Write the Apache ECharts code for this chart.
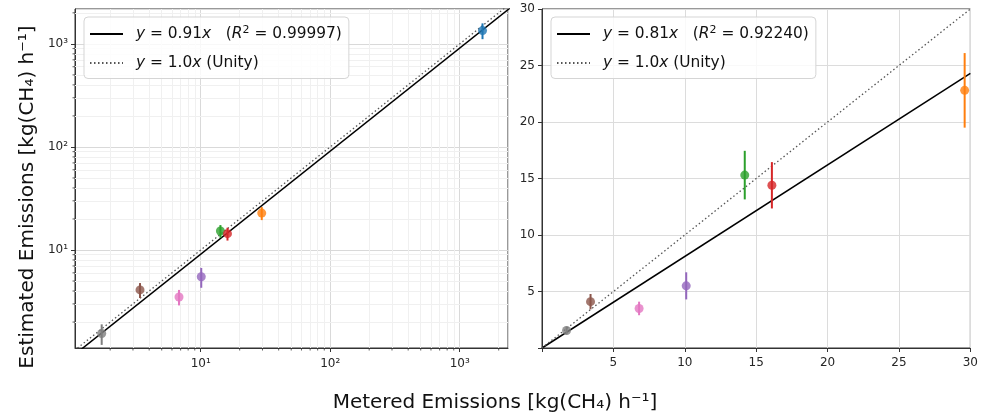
<!DOCTYPE html>
<html><head><meta charset="utf-8">
<script src="https://cdn.jsdelivr.net/npm/echarts@6/dist/echarts.min.js"></script>
<style>html,body{margin:0;padding:0;background:#fff}#c{width:981px;height:416px}</style>
</head><body><div id="c"></div>
<script>
// ---- data ----
const sourceColors = ['#1f77b4', '#ff7f0e', '#2ca02c', '#d62728', '#9467bd', '#8c564b', '#e377c2', '#7f7f7f'];
const metered   = [1500, 29.6, 14.2, 16.1, 10.1, 3.4, 6.8, 1.72];
const estimated = [1346, 22.8, 15.3, 14.4, 5.5, 4.1, 3.5, 1.55];
const estErr    = [235, 3.3, 2.15, 2.05, 1.2, 0.68, 0.6, 0.35];
const fitSlopes = [0.91, 0.81];
const fitR2     = ['0.99997', '0.92240'];
const unitySlope = 1.0;
const logLimitsX = [1.07, 2360];
const logLimitsY = [1.12, 2180];
const linLimits  = [0, 30];
const logMajorTicks = [10, 100, 1000];
const logMinorTicks = [2, 3, 4, 5, 6, 7, 8, 9, 20, 30, 40, 50, 60, 70, 80, 90, 200, 300, 400, 500, 600, 700, 800, 900, 2000];
const supDigits = { 10: '10\u00b9', 100: '10\u00b2', 1000: '10\u00b3' };

const FONT = 'DejaVu Sans';
const pts = metered.map((x, i) => ({ value: [x, estimated[i]], itemStyle: { color: sourceColors[i] } }));
const errs = metered.map((x, i) => [x, estimated[i], estErr[i]]);
const minorX = logMinorTicks.filter(v => v > logLimitsX[0] && v < logLimitsX[1]);
const minorY = logMinorTicks.filter(v => v > logLimitsY[0] && v < logLimitsY[1]);

function fitLine(slope, lim) { return [[lim[0], slope * lim[0]], [lim[1], slope * lim[1]]]; }

const legendText = {
  fitL: '{i|y} = 0.91{i|x}   ({i|R}{s|2} = ' + fitR2[0] + ')',
  uniL: '{i|y} = 1.0{i|x} (Unity)',
  fitR: '{i|y} = 0.81{i|x}   ({i|R}{s|2} = ' + fitR2[1] + ')',
  uniR: '{i|y} = 1.0{i|x} (Unity)'
};

const LF = 15.4;
function legendCfg(names, left) {
  return {
    data: names, orient: 'vertical', left: left, top: 17, z: 20,
    itemWidth: 33, itemHeight: 14, itemGap: 14,
    padding: [8, 7, 8, 5],
    backgroundColor: 'rgba(255,255,255,0.82)', borderColor: '#d5d5d5', borderWidth: 1, borderRadius: 4,
    selectedMode: false,
    itemStyle: { color: 'transparent', borderColor: 'transparent', borderWidth: 0, opacity: 0 },
    formatter: n => legendText[n],
    textStyle: {
      fontFamily: FONT, fontSize: LF, color: '#111', padding: [0, 0, 0, 8],
      rich: {
        i: { fontFamily: FONT, fontSize: LF, fontStyle: 'italic', color: '#111' },
        s: { fontFamily: FONT, fontSize: 11, color: '#111', verticalAlign: 'top', padding: [0, 0, 7, 0] }
      }
    }
  };
}

const tickLabel = { fontFamily: FONT, fontSize: 12, color: '#262626' };
const axisLine = { show: true, lineStyle: { color: '#333', width: 1 } };
const axisTick = { show: true, inside: false, length: 4, lineStyle: { color: '#333' } };

function logFmt(v) {
  const k = Math.round(v);
  return (Math.abs(v - k) < 1e-6 && logMajorTicks.includes(k)) ? supDigits[k] : '';
}
function linFmt(v) { return v === 0 ? '' : String(v); }

function errRender(p, api) {
  const a = api.coord([api.value(0), api.value(1) - api.value(2)]);
  const b = api.coord([api.value(0), api.value(1) + api.value(2)]);
  return { type: 'line', shape: { x1: a[0], y1: a[1], x2: b[0], y2: b[1] }, style: { stroke: sourceColors[p.dataIndex], lineWidth: 2 } };
}
// minor tick marks (outside the frame) on the log panel
function minorXTick(p, api) {
  const a = api.coord([api.value(0), logLimitsY[0]]);
  return { type: 'line', shape: { x1: a[0], y1: a[1], x2: a[0], y2: a[1] + 2.5 }, style: { stroke: '#333', lineWidth: 0.8 } };
}
function minorYTick(p, api) {
  const a = api.coord([logLimitsX[0], api.value(1)]);
  return { type: 'line', shape: { x1: a[0], y1: a[1], x2: a[0] - 2.5, y2: a[1] }, style: { stroke: '#333', lineWidth: 0.8 } };
}

const option = {
  animation: false,
  backgroundColor: '#fff',
  grid: [
    { left: 75, top: 9, width: 433, height: 339, show: true, borderColor: '#333', borderWidth: 1, backgroundColor: 'transparent' },
    { left: 542, top: 9, width: 432, height: 339, show: true, borderColor: '#333', borderWidth: 1, backgroundColor: 'transparent' }
  ],
  xAxis: [
    { type: 'log', gridIndex: 0, min: logLimitsX[0], max: logLimitsX[1], logBase: 10,
      axisLine, axisTick, axisLabel: { ...tickLabel, formatter: logFmt, showMinLabel: false, showMaxLabel: false, margin: 10 },
      splitLine: { show: true, lineStyle: { color: '#d9d9d9', width: 1 } } },
    { type: 'value', gridIndex: 1, min: linLimits[0], max: linLimits[1], interval: 5,
      axisLine, axisTick, axisLabel: { ...tickLabel, formatter: linFmt, margin: 9 },
      splitLine: { show: true, lineStyle: { color: '#dcdcdc', width: 1 } } }
  ],
  yAxis: [
    { type: 'log', gridIndex: 0, min: logLimitsY[0], max: logLimitsY[1], logBase: 10,
      axisLine, axisTick, axisLabel: { ...tickLabel, formatter: logFmt, showMinLabel: false, showMaxLabel: false, margin: 7 },
      splitLine: { show: true, lineStyle: { color: '#d9d9d9', width: 1 } } },
    { type: 'value', gridIndex: 1, min: linLimits[0], max: linLimits[1], interval: 5,
      axisLine, axisTick, axisLabel: { ...tickLabel, formatter: linFmt, margin: 7 },
      splitLine: { show: true, lineStyle: { color: '#dcdcdc', width: 1 } } }
  ],
  legend: [legendCfg(['fitL', 'uniL'], 84), legendCfg(['fitR', 'uniR'], 551)],
  graphic: [
    { type: 'text', x: 28, y: 197, rotation: Math.PI / 2, z: 10,
      style: { text: 'Estimated Emissions [kg(CH\u2084) h\u207b\u00b9]', font: '20px "DejaVu Sans"', fill: '#111', align: 'center', verticalAlign: 'middle' } },
    { type: 'text', x: 495, y: 403, z: 10,
      style: { text: 'Metered Emissions [kg(CH\u2084) h\u207b\u00b9]', font: '20px "DejaVu Sans"', fill: '#111', align: 'center', verticalAlign: 'middle' } }
  ],
  series: [
    // minor gridlines on log panel
    { type: 'line', xAxisIndex: 0, yAxisIndex: 0, data: [], silent: true, z: 1,
      markLine: { silent: true, symbol: 'none', label: { show: false }, z: 1,
        lineStyle: { color: '#f0f0f0', width: 1, type: 'solid' },
        data: minorX.map(v => ({ xAxis: v })).concat(minorY.map(v => ({ yAxis: v }))) } },
    { type: 'custom', xAxisIndex: 0, yAxisIndex: 0, silent: true, clip: false, z: 2,
      data: minorX.map(v => [v, logLimitsY[0]]), renderItem: minorXTick },
    { type: 'custom', xAxisIndex: 0, yAxisIndex: 0, silent: true, clip: false, z: 2,
      data: minorY.map(v => [logLimitsX[0], v]), renderItem: minorYTick },
    { name: 'fitL', type: 'line', xAxisIndex: 0, yAxisIndex: 0, data: fitLine(fitSlopes[0], [1, 3000]),
      symbol: 'none', clip: true, color: '#000', lineStyle: { color: '#000', width: 1.5 }, z: 3 },
    { name: 'uniL', type: 'line', xAxisIndex: 0, yAxisIndex: 0, data: fitLine(unitySlope, [1, 3000]),
      symbol: 'none', clip: true, color: '#555', lineStyle: { color: '#555', width: 1.3, type: [1.5, 2.5] }, z: 3 },
    { type: 'custom', xAxisIndex: 0, yAxisIndex: 0, data: errs, z: 4, clip: true, renderItem: errRender },
    { type: 'scatter', xAxisIndex: 0, yAxisIndex: 0, data: pts, symbolSize: 9, z: 5 },

    { name: 'fitR', type: 'line', xAxisIndex: 1, yAxisIndex: 1, data: fitLine(fitSlopes[1], linLimits),
      symbol: 'none', clip: true, color: '#000', lineStyle: { color: '#000', width: 1.5 }, z: 3 },
    { name: 'uniR', type: 'line', xAxisIndex: 1, yAxisIndex: 1, data: fitLine(unitySlope, linLimits),
      symbol: 'none', clip: true, color: '#555', lineStyle: { color: '#555', width: 1.3, type: [1.5, 2.5] }, z: 3 },
    { type: 'custom', xAxisIndex: 1, yAxisIndex: 1, data: errs, z: 4, clip: true, renderItem: errRender },
    { type: 'scatter', xAxisIndex: 1, yAxisIndex: 1, data: pts, symbolSize: 9, z: 5, clip: true }
  ]
};

const chart = echarts.init(document.getElementById('c'), null, { renderer: 'canvas' });
chart.setOption(option);
</script>
</body></html>
